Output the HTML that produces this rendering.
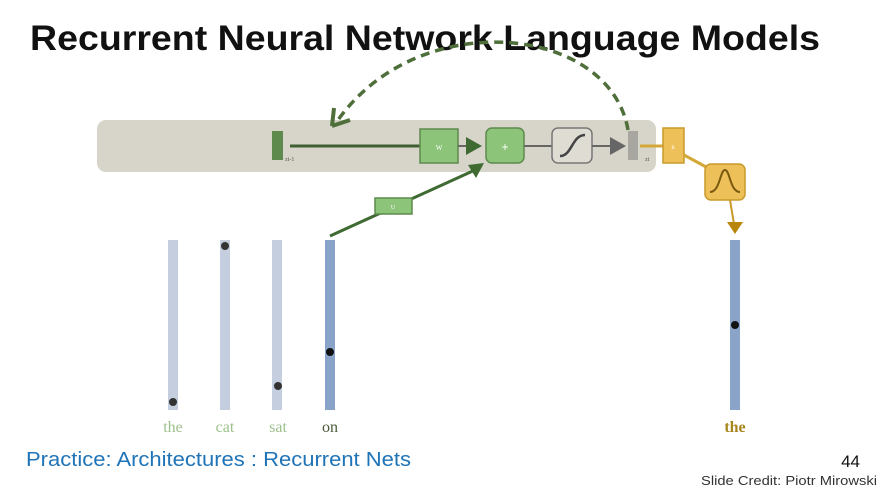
<!DOCTYPE html>
<html><head><meta charset="utf-8"><style>
html,body{margin:0;padding:0;background:#fff;}
svg{display:block;}
</style></head><body>
<svg width="881" height="487" viewBox="0 0 881 487" xmlns="http://www.w3.org/2000/svg">
<text x="30" y="50" font-family="Liberation Sans, sans-serif" font-weight="bold" font-size="35" textLength="790" lengthAdjust="spacingAndGlyphs" fill="#111">Recurrent Neural Network Language Models</text>
<rect x="97" y="120" width="559" height="52" rx="9" fill="#d7d5ca"/>
<path d="M628,130 C610,25 420,5 338,120" fill="none" stroke="#4e6e3a" stroke-width="3.5" stroke-dasharray="9,6"/>
<path d="M332,126 L334,108 M332,126 L350,120" stroke="#4e6e3a" stroke-width="4" fill="none"/>
<rect x="272" y="131" width="11" height="29" fill="#5e8a4e"/>
<text x="285" y="161" font-family="Liberation Serif, serif" font-size="6" fill="#555">zt-1</text>
<line x1="290" y1="146" x2="420" y2="146" stroke="#3f5f32" stroke-width="3"/>
<rect x="420" y="129" width="38" height="34" fill="#8cc47a" stroke="#5e8a4e" stroke-width="1.5"/>
<text x="439" y="150" font-family="Liberation Serif, serif" font-size="7" fill="#fff" text-anchor="middle">W</text>
<line x1="458" y1="146" x2="468" y2="146" stroke="#666" stroke-width="2"/>
<polygon points="466,137 482,146 466,155" fill="#3f6a32"/>
<rect x="486" y="128" width="38" height="35" rx="6" fill="#8cc47a" stroke="#5e8a4e" stroke-width="1.5"/>
<text x="505" y="151" font-family="Liberation Sans, sans-serif" font-size="12" fill="#fff" text-anchor="middle">+</text>
<line x1="524" y1="146" x2="552" y2="146" stroke="#666" stroke-width="2"/>
<rect x="552" y="128" width="40" height="35" rx="6" fill="#dedcd3" stroke="#777" stroke-width="1.5"/>
<path d="M560,156 C572,156 572,135 585,135" fill="none" stroke="#444" stroke-width="2.5"/>
<line x1="592" y1="146" x2="612" y2="146" stroke="#666" stroke-width="2"/>
<polygon points="610,137 626,146 610,155" fill="#666"/>
<rect x="628" y="131" width="10" height="29" fill="#a8a6a0"/>
<text x="645" y="161" font-family="Liberation Serif, serif" font-size="6" fill="#555">zt</text>
<line x1="330" y1="236" x2="475" y2="170" stroke="#3f6a32" stroke-width="3"/>
<rect x="375" y="198" width="37" height="16" fill="#8cc47a" stroke="#5e8a4e" stroke-width="1.5"/>
<text x="393" y="209" font-family="Liberation Serif, serif" font-size="6" fill="#fff" text-anchor="middle">U</text>
<polygon points="468,165 484,163 476,178" fill="#3f6a32"/>
<line x1="640" y1="146" x2="664" y2="146" stroke="#d4a838" stroke-width="3"/>
<rect x="663" y="128" width="21" height="35" fill="#edc05a" stroke="#c99a2a" stroke-width="1.5"/>
<text x="673" y="149" font-family="Liberation Serif, serif" font-size="5" fill="#fff" text-anchor="middle">B</text>
<line x1="684" y1="155" x2="708" y2="168" stroke="#d4a838" stroke-width="3"/>
<rect x="705" y="164" width="40" height="36" rx="6" fill="#edc05a" stroke="#c99a2a" stroke-width="1.5"/>
<path d="M710,192 C720,192 720,170 725,170 C730,170 730,192 740,192" fill="none" stroke="#7a5a10" stroke-width="2"/>
<line x1="730" y1="200" x2="734" y2="224" stroke="#c99a2a" stroke-width="2"/>
<polygon points="727,222 743,222 735,234" fill="#b8860b"/>
<rect x="168" y="240" width="10" height="170" fill="#c5cede"/>
<rect x="220" y="240" width="10" height="170" fill="#c5cede"/>
<rect x="272" y="240" width="10" height="170" fill="#c5cede"/>
<rect x="325" y="240" width="10" height="170" fill="#8aa3c8"/>
<rect x="730" y="240" width="10" height="170" fill="#8aa3c8"/>
<circle cx="173" cy="402" r="4" fill="#333"/>
<circle cx="225" cy="246" r="4" fill="#333"/>
<circle cx="278" cy="386" r="4" fill="#333"/>
<circle cx="330" cy="352" r="4" fill="#111"/>
<circle cx="735" cy="325" r="4" fill="#111"/>
<g font-family="Liberation Serif, serif" font-size="16" text-anchor="middle">
<text x="173" y="432" fill="#9dc08b">the</text>
<text x="225" y="432" fill="#9dc08b">cat</text>
<text x="278" y="432" fill="#9dc08b">sat</text>
<text x="330" y="432" fill="#4a5a3a">on</text>
<text x="735" y="432" fill="#a8861e" font-weight="bold">the</text>
</g>
<text x="26" y="466" font-family="Liberation Sans, sans-serif" font-size="20" fill="#1f74b8" textLength="385" lengthAdjust="spacingAndGlyphs">Practice: Architectures : Recurrent Nets</text>
<text x="860" y="467" font-family="Liberation Sans, sans-serif" font-size="17" fill="#111" text-anchor="end">44</text>
<text x="877" y="485" font-family="Liberation Sans, sans-serif" font-size="13" fill="#333" text-anchor="end" textLength="176" lengthAdjust="spacingAndGlyphs">Slide Credit: Piotr Mirowski</text>
</svg>
</body></html>
